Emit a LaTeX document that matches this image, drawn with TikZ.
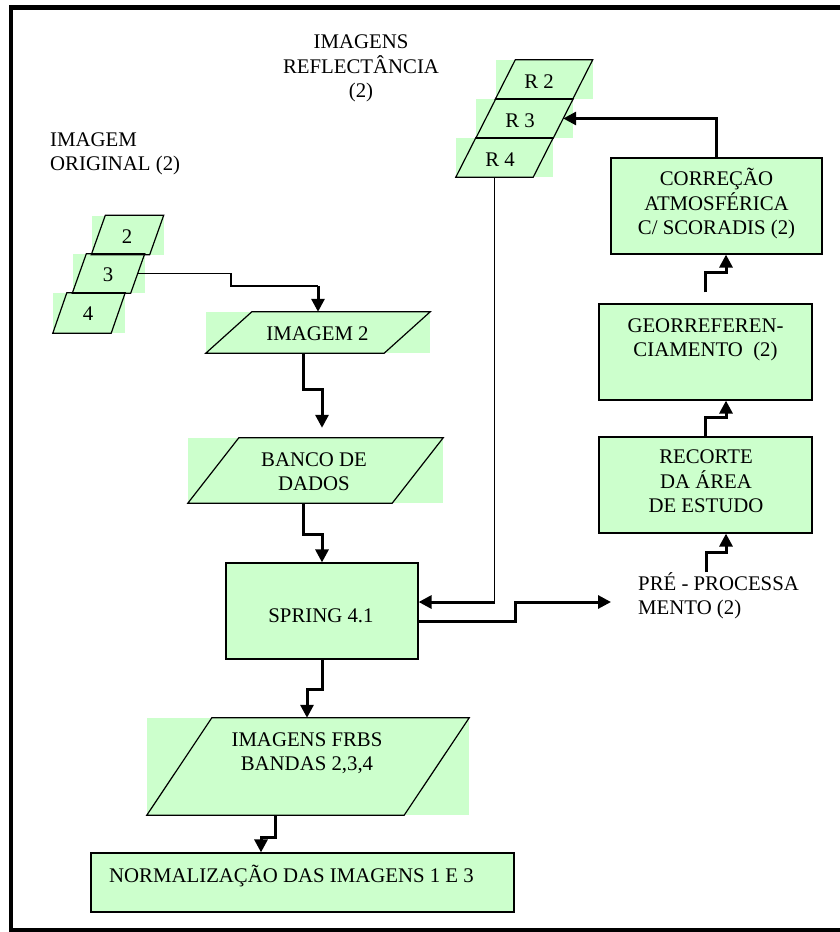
\documentclass[tikz,border=0pt]{standalone}
\usepackage{fontspec}
\setmainfont{Liberation Serif}
\usetikzlibrary{arrows.meta}
\definecolor{paleg}{HTML}{CCFFCC}

% outline of a slanted data box drawn over its filled bounding node
\newcommand\drawslant[2]{%
  \draw[edge] ([xshift=#2]#1.north west) -- (#1.north east)
    -- ([xshift=-#2]#1.south east) -- (#1.south west) -- cycle;}
% stacked lines whose baseline is that of the first line
\newcommand\txtrows[2]{\begin{tabular}[t]{@{}#1@{}}#2\end{tabular}}

\begin{document}
\begin{tikzpicture}[x=1pt,y=-1pt,
  txt/.style={font={\fontsize{20.8}{24.5}\selectfont}, inner sep=0pt, anchor=base},
  txtl/.style={txt, anchor=base west},
  slantbg/.style={fill=paleg, draw=none, inner sep=0pt},
  rbox/.style={fill=paleg, draw=black, line width=1.2pt, inner sep=0pt},
  edge/.style={draw=black, line width=1.2pt},
  wire/.style={draw=black, line width=1.5pt},
  flow/.style={draw=black, line width=3pt, -{Triangle[length=13pt,width=13pt]}},
]
\clip (0,0) rectangle (840,932);

% outer frame (open on the right)
\draw[line width=4.8pt] (850,7.5) -- (11,7.5) -- (11,930) -- (850,930);

% slanted data boxes: green backgrounds
\node[slantbg, minimum width=72pt, minimum height=39pt] (p2) at (127.5,235) {};
\node[slantbg, minimum width=72pt, minimum height=39pt] (p3) at (108.5,273.5) {};
\node[slantbg, minimum width=72pt, minimum height=40pt] (p4) at (89,313) {};
\node[slantbg, minimum width=97pt, minimum height=39pt] (r2) at (544,79.5) {};
\node[slantbg, minimum width=97pt, minimum height=39pt] (r3) at (524.5,118.5) {};
\node[slantbg, minimum width=97pt, minimum height=39pt] (r4) at (504.5,157.5) {};
\node[slantbg, minimum width=224pt, minimum height=41pt] (img2) at (318,332.5) {};
\node[slantbg, minimum width=255pt, minimum height=65pt] (banco) at (315.5,470.5) {};
\node[slantbg, minimum width=322pt, minimum height=97pt] (frbs) at (308,766.5) {};

% slanted data boxes: outlines
\drawslant{p2}{14pt}
\drawslant{p3}{14pt}
\drawslant{p4}{14pt}
\drawslant{r2}{20pt}
\drawslant{r3}{20pt}
\drawslant{r4}{20pt}
\drawslant{img2}{46pt}
\drawslant{banco}{51pt}
\drawslant{frbs}{65pt}

% process boxes
\node[rbox, minimum width=192pt, minimum height=96pt] (spring) at (322,611) {};
\node[rbox, minimum width=423pt, minimum height=59pt] (norm) at (302.5,882.5) {};
\node[rbox, minimum width=211pt, minimum height=96pt] (correcao) at (716.5,206) {};
\node[rbox, minimum width=213pt, minimum height=96pt] (georef) at (705.5,352) {};
\node[rbox, minimum width=213pt, minimum height=96pt] (recorte) at (705.5,485) {};

% free ends and junctions
\coordinate (sp1) at ([yshift=9pt]spring.east);
\coordinate (sp2) at ([yshift=-10pt]spring.east);
\coordinate (r4b) at ([xshift=-10pt]r4.south);
\coordinate (pretip) at (611,602);
\coordinate (prestart) at (706,572);

% connectors
\draw[wire] ([xshift=-7pt]p3.east) -- ++(93.5,0) |- ([yshift=26pt]img2.north);
\draw[flow] ([yshift=26pt]img2.north) -- (img2.north);
\draw[flow] ([xshift=-15pt]img2.south) -- ++(0,36) -| ([xshift=6.5pt,yshift=10pt]banco.north);
\draw[flow] ([xshift=-12.5pt]banco.south) -- ++(0,31) -| (spring.north);
\draw[flow] (spring.south) -- ++(0,30) -| ([xshift=-1pt]frbs.north);
\draw[flow] ([xshift=-33pt]frbs.south) -- ++(0,22) -| ([xshift=-41.5pt]norm.north);
\draw[wire] (r4b) -- (r4b |- sp1);
\draw[flow] (r4b |- sp1) -- (sp1);
\draw[flow] (sp2) -- ++(97,0) -- ++(0,-19) -- (pretip);
\draw[flow] (prestart) -- ++(0,-20) -| ([xshift=20.5pt]recorte.south);
\draw[flow] (recorte.north) -- ++(0,-19) -| ([xshift=20.5pt]georef.south);
\draw[flow] ([yshift=11pt]georef.north) -- ++(0,-20) -| ([xshift=9.5pt]correcao.south);
\draw[flow] (correcao.north) |- ([xshift=-10pt]r3.east);

% texts
\node[txt] (t-refl) at (361,48) {\txtrows{c}{IMAGENS\\REFLECTÂNCIA\\(2)}};
\node[txtl] (t-orig) at (50,146) {\txtrows{l}{IMAGEM\\ORIGINAL (2)}};
\node[txt] (t-p2) at (127,243) {2};
\node[txt] (t-p3) at (108,281) {3};
\node[txt] (t-p4) at (88,320) {4};
\node[txt] (t-r2) at (539,88) {R 2};
\node[txt] (t-r3) at (520,127) {R 3};
\node[txt] (t-r4) at (500,166) {R 4};
\node[txt] (t-img2) at (317.5,340) {IMAGEM 2};
\node[txt] (t-banco) at (314,466) {\txtrows{c}{BANCO DE\\DADOS}};
\node[txt] (t-spring) at (321,622) {SPRING 4.1};
\node[txt] (t-frbs) at (307,746) {\txtrows{c}{IMAGENS FRBS\\BANDAS 2,3,4}};
\node[txt] (t-norm) at (291.5,882) {NORMALIZAÇÃO DAS IMAGENS 1 E 3};
\node[txt, font={\fontsize{20.8}{24}\selectfont}] (t-corr) at (716.5,185) {\txtrows{c}{CORREÇÃO\\ATMOSFÉRICA\\C/ SCORADIS (2)}};
\node[txt] (t-geo) at (705.5,332) {\txtrows{c}{GEORREFEREN-\\CIAMENTO\ \ (2)}};
\node[txt] (t-rec) at (706,463) {\txtrows{c}{RECORTE\\DA ÁREA\\DE ESTUDO}};
\node[txtl] (pre) at (638,590) {\txtrows{l}{PRÉ - PROCESSA\\MENTO (2)}};
\end{tikzpicture}
\end{document}
